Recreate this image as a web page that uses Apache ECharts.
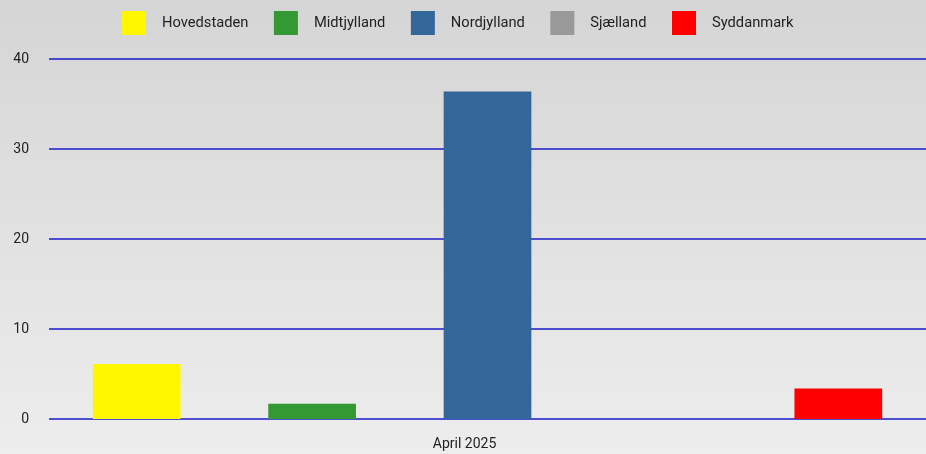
<!DOCTYPE html>
<html>
<head>
<meta charset="utf-8">
<script src="https://cdn.jsdelivr.net/npm/echarts@6/dist/echarts.min.js"></script>
<style>
html, body { margin: 0; padding: 0; }
#chart { width: 926px; height: 454px; }
</style>
</head>
<body>
<div id="chart"></div>
<script>
var categories = ['April 2025'];
var regions = ['Hovedstaden', 'Midtjylland', 'Nordjylland', 'Sjælland', 'Syddanmark'];
var values = [6.1, 1.7, 36.4, 0, 3.4];
var colors = ['#fff700', '#339933', '#336699', '#999999', '#ff0000'];
var yTicks = [0, 10, 20, 30, 40];

var myChart = echarts.init(document.getElementById('chart'));

var series = regions.map(function (name, i) {
    return {
        name: name,
        type: 'bar',
        data: [values[i]],
        itemStyle: { color: colors[i] },
        barGap: '100%',
        barCategoryGap: '10%'
    };
});

option = {
    animation: false,
    backgroundColor: {
        type: 'linear', x: 0, y: 0, x2: 0, y2: 1,
        colorStops: [
            { offset: 0, color: '#d5d5d5' },
            { offset: 1, color: '#ededed' }
        ]
    },
    textStyle: { fontFamily: 'Roboto' },
    legend: {
        top: 6,
        left: 117,
        itemWidth: 24,
        itemHeight: 24,
        itemGap: 25.5,
        icon: 'rect',
        textStyle: { fontSize: 14.7, color: '#222', padding: [0, 0, 0, 11] },
        data: regions
    },
    grid: { left: 49, right: 0, top: 59, bottom: 35 },
    xAxis: {
        type: 'category',
        data: categories,
        axisLine: { show: false },
        axisTick: { show: false },
        axisLabel: { fontSize: 14, color: '#222', margin: 18, padding: [0, 46, 0, 0] }
    },
    yAxis: {
        type: 'value',
        min: yTicks[0],
        max: yTicks[yTicks.length - 1],
        interval: 10,
        axisLine: { show: false },
        axisTick: { show: false },
        axisLabel: { fontSize: 14, color: '#222', margin: 20 },
        splitLine: { show: true, lineStyle: { color: '#1a1ac8', width: 1.5 } }
    },
    series: series
};

myChart.setOption(option);
</script>
</body>
</html>
